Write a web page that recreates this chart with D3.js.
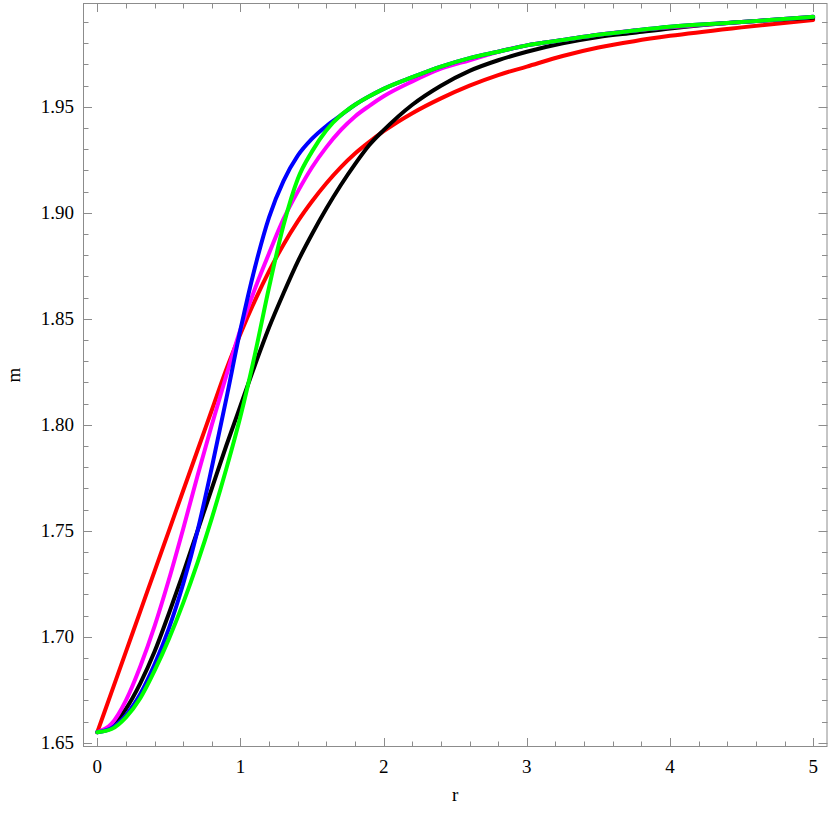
<!DOCTYPE html>
<html>
<head>
<meta charset="utf-8">
<script src="https://cdn.jsdelivr.net/npm/d3@7"></script>
<style>
    body { margin: 0; background: #fff; }
    svg { display: block; }
    .tick-label { font-family: "Liberation Serif", "Times New Roman", serif; font-size: 19px; fill: #000; }
    .axis-title { font-family: "Liberation Serif", "Times New Roman", serif; font-size: 19px; fill: #000; }
</style>
</head>
<body>
<svg id="chart" width="830" height="818"></svg>
<script>
// sample radii shared by all curves
const rValues = [0, 0.1, 0.2, 0.3, 0.4, 0.5, 0.6, 0.7, 0.8, 0.9, 1.0, 1.1, 1.2, 1.3, 1.4, 1.5, 1.6, 1.7, 1.8, 1.9, 2.0, 2.2, 2.4, 2.6, 2.8, 3.0, 3.25, 3.5, 3.75, 4.0, 4.5, 5.0]

const mRed = [1.655, 1.674, 1.693, 1.712, 1.731, 1.750, 1.769, 1.788, 1.807, 1.826, 1.843, 1.8585, 1.8725, 1.885, 1.896, 1.9055, 1.914, 1.9215, 1.928, 1.9335, 1.9385, 1.947, 1.954, 1.960, 1.965, 1.969, 1.974, 1.978, 1.981, 1.9835, 1.9875, 1.991]
const mBlack = [1.655, 1.658, 1.666, 1.678, 1.693, 1.711, 1.730, 1.750, 1.770, 1.790, 1.809, 1.828, 1.846, 1.862, 1.877, 1.890, 1.902, 1.913, 1.923, 1.932, 1.939, 1.951, 1.960, 1.967, 1.972, 1.976, 1.980, 1.983, 1.985, 1.987, 1.990, 1.992]
const mMagenta = [1.655, 1.659, 1.670, 1.686, 1.705, 1.727, 1.751, 1.776, 1.800, 1.823, 1.845, 1.864, 1.881, 1.897, 1.910, 1.9215, 1.931, 1.939, 1.9455, 1.9505, 1.955, 1.962, 1.968, 1.972, 1.976, 1.979, 1.9815, 1.984, 1.986, 1.9875, 1.990, 1.9925]
const mBlue = [1.655, 1.657, 1.663, 1.673, 1.687, 1.704, 1.725, 1.750, 1.780, 1.812, 1.845, 1.874, 1.898, 1.915, 1.927, 1.935, 1.941, 1.946, 1.951, 1.955, 1.9585, 1.964, 1.969, 1.973, 1.976, 1.979, 1.9815, 1.984, 1.986, 1.9878, 1.990, 1.9925]
const mGreen = [1.655, 1.6565, 1.662, 1.671, 1.684, 1.699, 1.716, 1.735, 1.756, 1.779, 1.804, 1.833, 1.865, 1.894, 1.916, 1.929, 1.939, 1.946, 1.951, 1.955, 1.9585, 1.964, 1.969, 1.973, 1.976, 1.979, 1.9815, 1.984, 1.986, 1.9878, 1.990, 1.9925]

const seriesColors = ['#ff0000', '#000000', '#ff00ff', '#0000ff', '#00ff00']
const seriesValues = [mRed, mBlack, mMagenta, mBlue, mGreen]

const xMajor = [0, 1, 2, 3, 4, 5]
const yMajor = [1.65, 1.70, 1.75, 1.80, 1.85, 1.90, 1.95]

const svg = d3.select('#chart')
const plotLeft = 83, plotRight = 827.5, plotTop = 3, plotBottom = 747

const x = d3.scaleLinear().domain([-0.1, 5.1]).range([plotLeft, plotRight])
const y = d3.scaleLinear().domain([1.648, 1.999]).range([plotBottom, plotTop])

const xMinor = d3.range(0, 5.0001, 0.2).filter(v => Math.abs(v - Math.round(v)) > 1e-6)
const yMinor = d3.range(1.65, 1.9951, 0.01).filter(v => !yMajor.some(t => Math.abs(t - v) < 1e-6))

const frameColor = '#8c8c8c'
const majorLen = 9, minorLen = 5.5

const ticks = svg.append('g').attr('stroke', frameColor).attr('stroke-width', 1)

// bottom and top ticks
xMajor.concat(xMinor).forEach(v => {
    const len = xMajor.includes(v) ? majorLen : minorLen
    const px = Math.round(x(v)) + 0.5
    ticks.append('line').attr('x1', px).attr('x2', px).attr('y1', plotBottom).attr('y2', plotBottom - len)
    ticks.append('line').attr('x1', px).attr('x2', px).attr('y1', plotTop).attr('y2', plotTop + len)
})

// left and right ticks
yMajor.concat(yMinor).forEach(v => {
    const len = yMajor.some(t => Math.abs(t - v) < 1e-6) ? majorLen : minorLen
    const py = Math.round(y(v)) + 0.5
    ticks.append('line').attr('x1', plotLeft).attr('x2', plotLeft + len).attr('y1', py).attr('y2', py)
    ticks.append('line').attr('x1', plotRight).attr('x2', plotRight - len).attr('y1', py).attr('y2', py)
})

// curves
const line = d3.line()
    .x((d, i) => x(rValues[i]))
    .y(d => y(d))
    .curve(d3.curveMonotoneX)

const plot = svg.append('g')
plot.append('clipPath').attr('id', 'clip')
    .append('rect').attr('x', plotLeft).attr('y', plotTop).attr('width', plotRight - plotLeft).attr('height', plotBottom - plotTop)

plot.append('g')
    .attr('clip-path', 'url(#clip)')
    .selectAll('path')
    .data(seriesValues)
    .join('path')
    .attr('d', line)
    .attr('fill', 'none')
    .attr('stroke', (d, i) => seriesColors[i])
    .attr('stroke-width', 4)
    .attr('stroke-linejoin', 'round')
    .attr('stroke-linecap', 'round')

// frame
svg.append('rect')
    .attr('x', plotLeft + 0.5).attr('y', plotTop + 0.5)
    .attr('width', plotRight - plotLeft - 1).attr('height', plotBottom - plotTop - 1)
    .attr('fill', 'none')
    .attr('stroke', frameColor)
    .attr('stroke-width', 1)

// tick labels
svg.append('g').selectAll('text')
    .data(xMajor)
    .join('text')
    .attr('class', 'tick-label')
    .attr('x', d => x(d))
    .attr('y', 773)
    .attr('text-anchor', 'middle')
    .text(d => d3.format('d')(d))

svg.append('g').selectAll('text')
    .data(yMajor)
    .join('text')
    .attr('class', 'tick-label')
    .attr('x', 74)
    .attr('y', d => y(d) + 6.5)
    .attr('text-anchor', 'end')
    .text(d => d3.format('.2f')(d))

// axis titles
svg.append('text')
    .attr('class', 'axis-title')
    .attr('x', (plotLeft + plotRight) / 2)
    .attr('y', 801)
    .attr('text-anchor', 'middle')
    .text('r')

svg.append('text')
    .attr('class', 'axis-title')
    .attr('transform', `translate(19.5, ${(plotTop + plotBottom) / 2}) rotate(-90)`)
    .attr('text-anchor', 'middle')
    .text('m')
</script>
</body>
</html>
